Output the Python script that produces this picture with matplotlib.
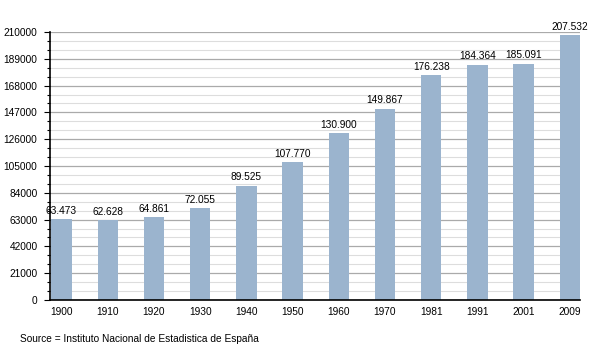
import matplotlib
matplotlib.use("Agg")
import matplotlib.pyplot as plt
from matplotlib.ticker import MultipleLocator

years = ["1900", "1910", "1920", "1930", "1940", "1950", "1960", "1970", "1981", "1991", "2001", "2009"]
population = [63473, 62628, 64861, 72055, 89525, 107770, 130900, 149867, 176238, 184364, 185091, 207532]
labels = ["63.473", "62.628", "64.861", "72.055", "89.525", "107.770", "130.900",
          "149.867", "176.238", "184.364", "185.091", "207.532"]
source = "Source = Instituto Nacional de Estadistica de España"

plt.rcParams["font.family"] = ["Liberation Sans", "DejaVu Sans"]
plt.rcParams["font.size"] = 7.3

fig = plt.figure(figsize=(6.1, 3.5), dpi=100)
ax = fig.add_axes([50 / 610, 50 / 350, 530 / 610, 268 / 350])

x = range(len(years))
ax.bar(x, population, width=0.44, color="#9BB4CE", zorder=3)
for xi, v, lab in zip(x, population, labels):
    ax.text(xi, v + 2600, lab, ha="center", va="bottom", zorder=4)

ax.set_xlim(-0.25, 11.22)
ax.set_ylim(0, 210000)
ax.yaxis.set_major_locator(MultipleLocator(21000))
ax.yaxis.set_minor_locator(MultipleLocator(7000))
ax.grid(axis="y", which="major", color="#AAAAAA", lw=0.9, zorder=0)
ax.grid(axis="y", which="minor", color="#DDDDDD", lw=0.8, zorder=0)
ax.set_xticks(list(x))
ax.set_xticklabels(years)
ax.tick_params(axis="x", length=0, pad=5)
ax.tick_params(axis="y", which="major", length=4, width=0.8, pad=5)
ax.tick_params(axis="y", which="minor", length=2.5, width=0.8)
for s in ["top", "right"]:
    ax.spines[s].set_visible(False)
for s in ["left", "bottom"]:
    ax.spines[s].set_linewidth(1.2)
    ax.spines[s].set_zorder(5)

fig.text(20 / 610, 1 - 339 / 350, source, ha="left", va="center")
fig.savefig("out.png", dpi=100)
